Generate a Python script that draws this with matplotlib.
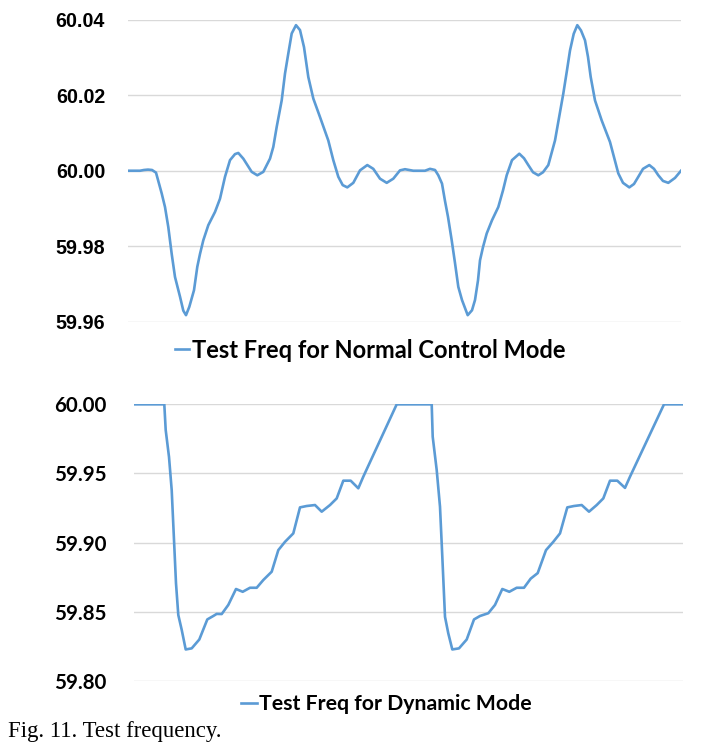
import numpy as np
import matplotlib.pyplot as plt

# frequency traces, columns: sample index, frequency (Hz)
normal_mode = np.array([
    [0, 60.0000], [12, 60.0000], [16, 60.0002], [20, 60.0003], [24, 60.0002],
    [28, 59.9995], [33.7, 59.9940], [37, 59.9904], [40.3, 59.9851], [43.7, 59.9780],
    [47, 59.9719], [52, 59.9667], [55.3, 59.9630], [58, 59.9618], [61.3, 59.9640],
    [66, 59.9684], [69.3, 59.9746], [72, 59.9780], [75.3, 59.9816], [80.3, 59.9856],
    [87, 59.9891], [92, 59.9926], [97, 59.9984], [102, 60.0028], [107, 60.0044],
    [110.3, 60.0047], [115.3, 60.0032], [123.7, 59.9997], [129.3, 59.9988], [135.3, 59.9997],
    [142, 60.0032], [145.3, 60.0063], [148.7, 60.0116], [153.7, 60.0186], [157, 60.0257],
    [160.3, 60.0310], [163.7, 60.0363], [168, 60.0385], [172, 60.0372], [176, 60.0327],
    [180.3, 60.0248], [185.3, 60.0191], [192, 60.0142], [200.3, 60.0080], [205.3, 60.0028],
    [210.3, 59.9984], [214.7, 59.9962], [219.3, 59.9956], [225.3, 59.9968], [232, 60.0001],
    [239.3, 60.0015], [245.3, 60.0005], [252, 59.9979], [258.7, 59.9968], [265.3, 59.9979],
    [272, 60.0001], [277, 60.0004], [285.3, 60.0000], [297, 60.0000], [302, 60.0005],
    [307, 60.0002], [310.3, 59.9988], [314, 59.9966], [317, 59.9920], [320, 59.9878],
    [323.7, 59.9816], [327, 59.9756], [330.3, 59.9693], [334, 59.9658], [339.7, 59.9618],
    [344, 59.9631], [347, 59.9658], [350, 59.9710], [352, 59.9763], [355, 59.9798],
    [358.7, 59.9834], [364, 59.9869], [370.3, 59.9904], [375, 59.9948], [378.7, 59.9988],
    [384, 60.0028], [391.3, 60.0045], [396, 60.0033], [400.3, 60.0015], [405, 59.9996],
    [410.3, 59.9988], [415, 59.9996], [420.3, 60.0015], [427, 60.0080], [430, 60.0125],
    [435.3, 60.0204], [439, 60.0266], [442, 60.0318], [445.7, 60.0362], [449.3, 60.0385],
    [453, 60.0371], [457, 60.0345], [460, 60.0301], [462.7, 60.0248], [467, 60.0186],
    [473.7, 60.0133], [482, 60.0076], [486, 60.0036], [490.3, 59.9993], [495, 59.9968],
    [501.3, 59.9956], [506, 59.9965], [510.3, 59.9984], [515, 60.0005], [521.3, 60.0015],
    [526, 60.0005], [530.3, 59.9988], [535, 59.9973], [540.3, 59.9968], [547, 59.9981],
    [553, 60.0000],
])

dynamic_mode = np.array([
    [0, 60.0000], [30, 60.0000], [31.4, 59.9814], [34.7, 59.9620], [37.4, 59.9380],
    [39.7, 59.9020], [41.7, 59.8706], [44, 59.8477], [47.4, 59.8370], [51.4, 59.8228],
    [57.4, 59.8236], [65, 59.8300], [73, 59.8445], [79, 59.8470], [82.4, 59.8485],
    [87.4, 59.8484], [94, 59.8550], [101.7, 59.8665], [108.4, 59.8645], [115.7, 59.8674],
    [122.4, 59.8674], [129, 59.8730], [137.4, 59.8790], [144, 59.8946], [150.7, 59.9006],
    [159, 59.9067], [165.7, 59.9255], [172.4, 59.9265], [180.7, 59.9272], [187.4, 59.9224],
    [195.7, 59.9272], [202.4, 59.9320], [209, 59.9448], [216.4, 59.9448], [224, 59.9393],
    [229, 59.9477], [262.4, 60.0000], [297.4, 60.0000], [298.4, 59.9766], [302.4, 59.9525],
    [305.7, 59.9260], [308, 59.8900], [310.7, 59.8464], [314, 59.8344], [318, 59.8228],
    [324.7, 59.8236], [332.4, 59.8300], [339.7, 59.8445], [345.7, 59.8470], [354, 59.8490],
    [360.7, 59.8550], [368, 59.8665], [375, 59.8645], [382.4, 59.8674], [389.7, 59.8674],
    [396.4, 59.8740], [403.4, 59.8780], [411.7, 59.8946], [419, 59.9006], [425.7, 59.9067],
    [433, 59.9255], [439.7, 59.9265], [447.4, 59.9272], [454.7, 59.9224], [462.4, 59.9272],
    [469, 59.9320], [475.7, 59.9448], [483, 59.9448], [490.7, 59.9396], [495.7, 59.9477],
    [529.7, 60.0000], [548.4, 60.0000],
])

ticks_normal = [59.96, 59.98, 60.00, 60.02, 60.04]
ticks_dynamic = [59.80, 59.85, 59.90, 59.95, 60.00]

blue = '#5B9BD5'
grid = '#D9D9D9'

fig = plt.figure(figsize=(7.02, 7.5), dpi=100)
ax1 = fig.add_axes([128 / 702, 0.5707, 553 / 702, 0.4033])
ax2 = fig.add_axes([134.3 / 702, 0.0920, 548.4 / 702, 0.3689])


def style(ax, ticks, xmax, family, size, pad):
    ax.set_ylim(ticks[0], ticks[-1])
    ax.set_yticks(ticks)
    ax.set_yticklabels(['%.2f' % v for v in ticks], fontfamily=family,
                       fontweight='bold', fontsize=size)
    ax.set_xlim(0, xmax)
    ax.set_xticks([])
    ax.tick_params(axis='y', length=0, pad=pad)
    for s in ax.spines.values():
        s.set_visible(False)
    ax.grid(axis='y', color=grid, linewidth=1)
    ax.set_axisbelow(True)


l1, = ax1.plot(normal_mode[:, 0], normal_mode[:, 1], color=blue, linewidth=1.9,
               solid_joinstyle='round', label='Test Freq for Normal Control Mode')
style(ax1, ticks_normal, 553, 'Liberation Sans', 14.2, 16.5)
l2, = ax2.plot(dynamic_mode[:, 0], dynamic_mode[:, 1], color=blue, linewidth=1.9,
               solid_joinstyle='round', label='Test Freq for Dynamic Mode')
style(ax2, ticks_dynamic, 548.4, 'Lato', 14.8, 20)

fig.legend(handles=[l1], loc='center', bbox_to_anchor=(370 / 702, 1 - 350 / 750),
           frameon=False, prop={'family': 'Lato', 'weight': 'bold', 'size': 17},
           handlelength=0.6, handletextpad=0.1, borderpad=0, borderaxespad=0)
fig.legend(handles=[l2], loc='center', bbox_to_anchor=(386 / 702, 1 - 704 / 750),
           frameon=False, prop={'family': 'Lato', 'weight': 'bold', 'size': 15.3},
           handlelength=0.75, handletextpad=0.1, borderpad=0, borderaxespad=0)

fig.text(8 / 702, 1 - 731 / 750, 'Fig. 11. Test frequency.', fontfamily='Liberation Serif',
         fontsize=16.4, va='center', ha='left')

fig.savefig('out.png', dpi=100)
